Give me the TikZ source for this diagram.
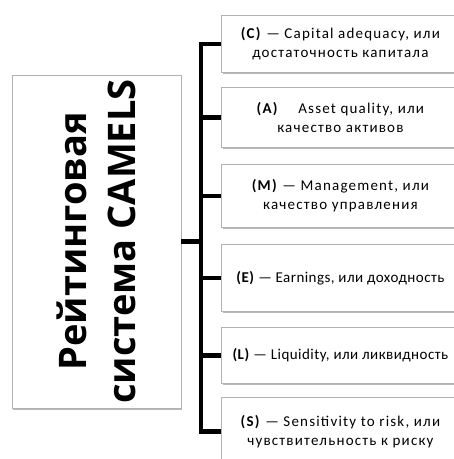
\documentclass[tikz,border=0pt]{standalone}
\usepackage{fontspec}
\setmainfont{Carlito}[LetterSpace=8]
\newfontfamily\narrowfont{Carlito}[LetterSpace=3]
\newfontfamily\titlefont{Open Sans}
\usetikzlibrary{shadows}
\begin{document}
\begin{tikzpicture}[x=1pt,y=-1pt,
  box/.style={draw=gray!60, fill=white, line width=0.8pt, inner sep=0pt,
    general shadow={fill=gray!55, shadow xshift=1.2pt, shadow yshift=-1.6pt}},
  item/.style={box, anchor=north west, minimum width=238pt, align=center,
    font=\fontsize{15}{19}\selectfont},
  tight/.style={font=\narrowfont\fontsize{15}{19}\selectfont},
  link/.style={line width=4.5pt, line join=miter, black}]
\useasboundingbox (0,0) rectangle (454,459);
\clip (0,0) rectangle (454,459);
% left box
\node[box, rotate=90, minimum width=333pt, minimum height=169pt, align=center,
  font=\titlefont\bfseries\fontsize{38}{49}\selectfont] (sys) at (96.5,241.5)
  {Рейтинговая\\система CAMELS};
% right boxes
\node[item, minimum height=57pt] (c) at (221,15)
  {\textbf{(C)} — Capital adequacy, или\\достаточность капитала};
\node[item, minimum height=60pt] (a) at (221,87)
  {\textbf{(A)}\quad\ Asset quality, или\\качество активов};
\node[item, minimum height=63pt] (m) at (221,164)
  {\textbf{(M)} — Management, или\\качество управления};
\node[item, tight, minimum height=67pt] (e) at (221,244)
  {\textbf{(E)} — Earnings, или доходность};
\node[item, tight, minimum height=56pt] (l) at (221,327)
  {\textbf{(L)} — Liquidity, или ликвидность};
\node[item, minimum height=68pt] (s) at (221,397)
  {\textbf{(S)} — Sensitivity to risk, или\\чувствительность к риску};
% connectors
\coordinate (spine) at (201,0);
\draw[link] (c.west) -- (c.west -| spine) -- (s.west -| spine) -- (s.west);
\draw[link] (sys.south) -- (sys.south -| spine);
\draw[link] (a.west -| spine) -- (a.west);
\draw[link] (m.west -| spine) -- (m.west);
\draw[link] (e.west -| spine) -- (e.west);
\draw[link] (l.west -| spine) -- (l.west);
\end{tikzpicture}
\end{document}
